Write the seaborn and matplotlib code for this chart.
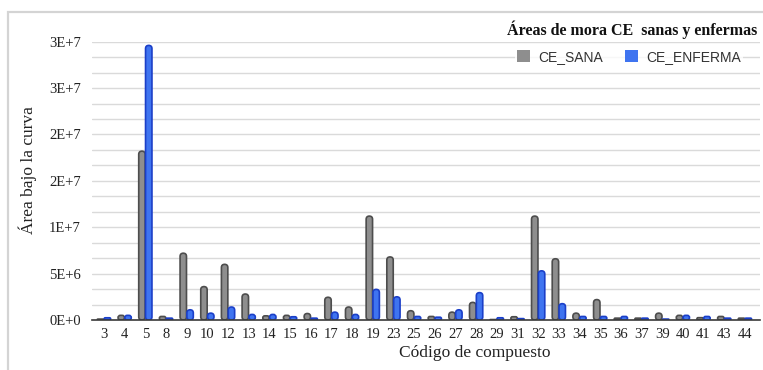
import numpy as np
import pandas as pd
import matplotlib
matplotlib.use("Agg")
import matplotlib.pyplot as plt
import seaborn as sns
from matplotlib.patches import Patch, FancyBboxPatch, Rectangle
from matplotlib.ticker import MultipleLocator

# ---- data ----
categories = ['3', '4', '5', '8', '9', '10', '12', '13', '14', '15', '16', '17', '18', '19',
              '23', '25', '26', '27', '28', '29', '31', '32', '33', '34', '35', '36', '37',
              '39', '40', '41', '43', '44']
ce_sana = [0.1e6, 0.5e6, 18.2e6, 0.38e6, 7.2e6, 3.6e6, 6.0e6, 2.8e6, 0.45e6, 0.5e6, 0.7e6,
           2.45e6, 1.4e6, 11.2e6, 6.8e6, 1.0e6, 0.38e6, 0.85e6, 1.9e6, 0.05e6, 0.35e6,
           11.2e6, 6.6e6, 0.74e6, 2.2e6, 0.2e6, 0.2e6, 0.74e6, 0.5e6, 0.25e6, 0.38e6, 0.2e6]
ce_enferma = [0.24e6, 0.5e6, 29.6e6, 0.2e6, 1.1e6, 0.74e6, 1.4e6, 0.6e6, 0.6e6, 0.35e6, 0.2e6,
              0.85e6, 0.6e6, 3.3e6, 2.5e6, 0.38e6, 0.3e6, 1.1e6, 2.95e6, 0.24e6, 0.15e6,
              5.3e6, 1.76e6, 0.38e6, 0.38e6, 0.38e6, 0.2e6, 0.1e6, 0.5e6, 0.38e6, 0.2e6, 0.2e6]
series_names = ['CE_SANA', 'CE_ENFERMA']
ytick_values = [0, 5e6, 10e6, 15e6, 20e6, 25e6, 30e6]
ytick_labels = ['0E+0', '5E+6', '1E+7', '2E+7', '2E+7', '3E+7', '3E+7']
title_text = 'Áreas de mora CE  sanas y enfermas'
xlabel_text = 'Código de compuesto'
ylabel_text = 'Área bajo la curva'

df = pd.DataFrame({
    'cat': categories * 2,
    'serie': [series_names[0]] * len(categories) + [series_names[1]] * len(categories),
    'val': ce_sana + ce_enferma,
})

fill_colors = {'CE_SANA': '#8e8e8e', 'CE_ENFERMA': '#3f74f0'}
edge_colors = {'CE_SANA': '#4d4d4d', 'CE_ENFERMA': '#1b3fc8'}

sns.set_style("white")
plt.rcParams['font.family'] = ['Liberation Serif', 'DejaVu Serif']

W, H = 763, 370
fig = plt.figure(figsize=(W / 100, H / 100), dpi=100)
ax_left, ax_right, ax_top, ax_bot = 92, 760, 41.7, 320
ax = fig.add_axes([ax_left / W, (H - ax_bot) / H, (ax_right - ax_left) / W, (ax_bot - ax_top) / H])

sns.barplot(data=df, x='cat', y='val', hue='serie', hue_order=series_names,
            palette=fill_colors, width=0.66, gap=0.06, ax=ax, legend=False,
            saturation=1)

xlim = (-0.58, len(categories) - 1 + 0.73)
ylim = (0, 30e6)
ax.set_xlim(*xlim)
ax.set_ylim(*ylim)

# replace rectangles with rounded-top bars
px_per_x = (ax_right - ax_left) / (xlim[1] - xlim[0])
px_per_y = (ax_bot - ax_top) / (ylim[1] - ylim[0])
asp = px_per_x / px_per_y
bars = list(ax.patches)
n = len(categories)
for i, p in enumerate(bars):
    name = series_names[0] if i < n else series_names[1]
    x, y = p.get_x(), p.get_y()
    w, h = p.get_width(), p.get_height()
    p.remove()
    if h <= 0:
        continue
    r = min(w / 2, (h / asp) / 2)
    fb = FancyBboxPatch((x, y), w, h, boxstyle=f"round,pad=0,rounding_size={r}",
                        mutation_aspect=asp, facecolor=fill_colors[name],
                        edgecolor=edge_colors[name], linewidth=1.2, zorder=3)
    ax.add_patch(fb)

# grid
ax.yaxis.set_major_locator(plt.FixedLocator(ytick_values))
ax.set_yticklabels(ytick_labels)
ax.yaxis.set_minor_locator(MultipleLocator(5e6 / 3))
ax.grid(axis='y', which='both', color='#dadada', linewidth=1.0, zorder=0)
ax.set_axisbelow(True)
for s in ['top', 'right', 'left']:
    ax.spines[s].set_visible(False)
ax.spines['bottom'].set_color('#3a3a3a')
ax.spines['bottom'].set_linewidth(1.2)
ax.spines['bottom'].set_zorder(4)
ax.tick_params(axis='y', which='both', length=0, labelsize=10.5, pad=8, labelcolor='#222222')
ax.tick_params(axis='x', length=0, labelsize=10.5, pad=6, labelcolor='#222222')

ax.set_xlabel(xlabel_text, fontsize=12.5, color='#222222')
ax.set_ylabel(ylabel_text, fontsize=12.5, color='#222222')
ax.xaxis.set_label_coords((475 - ax_left) / (ax_right - ax_left), -(353 - ax_bot) / (ax_bot - ax_top))
ax.yaxis.set_label_coords(-(ax_left - 28) / (ax_right - ax_left), (ax_bot - 170) / (ax_bot - ax_top))
ax.xaxis.label.set_va('center')
ax.yaxis.label.set_va('center')

# outer frame (left and top edges visible)
frame = Rectangle((7.5 / W, -0.2), 1.2, (H - 12) / H + 0.2, transform=fig.transFigure,
                  fill=False, edgecolor='#d4d4d4', linewidth=1.6, zorder=0)
fig.patches.append(frame)

# title and legend
fig.text(757 / W, (H - 30) / H, title_text, ha='right', va='center', fontsize=11.5,
         fontweight='bold', color='#111111')
handles = [Patch(facecolor=fill_colors[s], edgecolor='none') for s in series_names]
leg = fig.legend(handles, series_names, loc='center', bbox_to_anchor=(629 / W, (H - 57) / H),
                 ncol=2, frameon=True, handlelength=0.9, handleheight=0.9,
                 handletextpad=0.6, columnspacing=1.6, borderpad=0.2, borderaxespad=0,
                 prop={'family': ['Liberation Sans', 'DejaVu Sans'], 'size': 10})
leg.get_frame().set_facecolor('white')
leg.get_frame().set_edgecolor('none')
for t in leg.get_texts():
    t.set_color('#333333')

fig.savefig('out.png', dpi=100)
